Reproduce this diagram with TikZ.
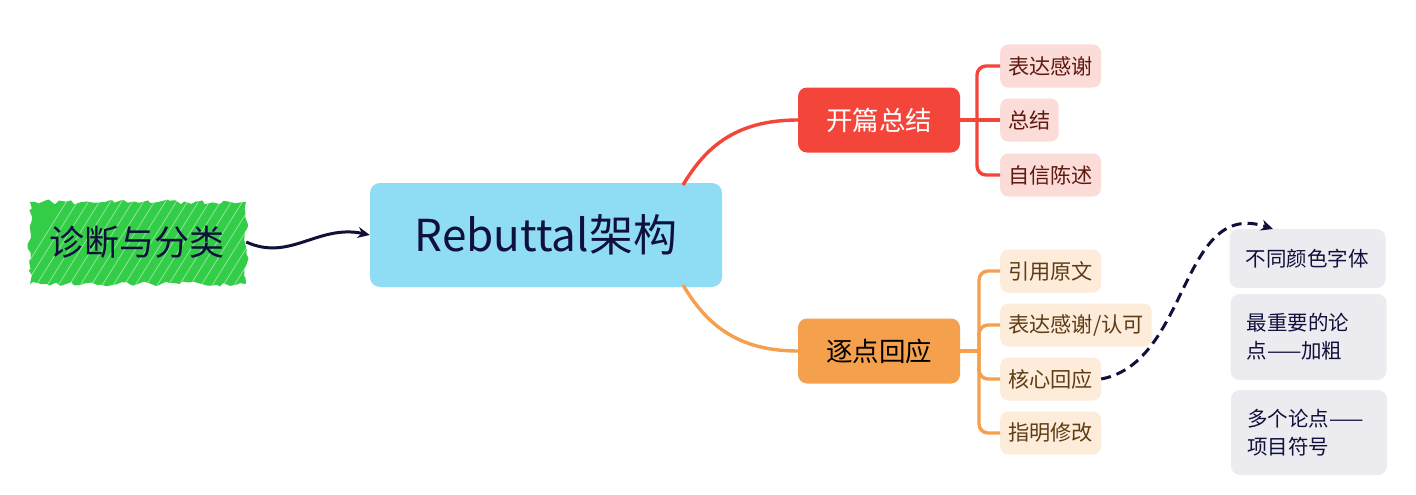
\documentclass[tikz,border=0pt]{standalone}
\usepackage{fontspec}
\setmainfont{Noto Sans CJK SC}
\usetikzlibrary{decorations.pathmorphing,arrows.meta}
\definecolor{cgreen}{RGB}{52,205,72}
\definecolor{cblue}{RGB}{143,220,245}
\definecolor{cred}{RGB}{244,69,58}
\definecolor{corange}{RGB}{245,160,76}
\definecolor{cpink}{RGB}{252,220,217}
\definecolor{cpinktext}{RGB}{95,25,15}
\definecolor{cpeach}{RGB}{253,236,218}
\definecolor{cpeachtext}{RGB}{95,60,20}
\definecolor{cgray}{RGB}{236,236,240}
\definecolor{cnavy}{RGB}{16,16,60}
\begin{document}
\begin{tikzpicture}[x=1pt,y=-1pt,
  mainbox/.style={fill=cblue, rounded corners=10pt, minimum width=352pt, minimum height=104pt, inner sep=0pt, text=cnavy, font=\fontsize{44}{50}\selectfont},
  topicred/.style={fill=cred, rounded corners=9pt, minimum width=162pt, minimum height=65pt, inner sep=0pt, text=white, font=\fontsize{26.5}{30}\selectfont},
  topicorange/.style={fill=corange, rounded corners=9pt, minimum width=162pt, minimum height=65pt, inner sep=0pt, text=black, font=\fontsize{26.5}{30}\selectfont},
  childred/.style={fill=cpink, rounded corners=8pt, minimum height=43pt, inner xsep=8pt, inner ysep=0pt, anchor=west, text=cpinktext, font=\fontsize{21.2}{24}\selectfont},
  childorange/.style={fill=cpeach, rounded corners=8pt, minimum height=43pt, inner xsep=8pt, inner ysep=0pt, anchor=west, text=cpeachtext, font=\fontsize{21.2}{24}\selectfont},
  graybox/.style={fill=cgray, rounded corners=9pt, inner xsep=16pt, inner ysep=0pt, text=cnavy, align=left, text width=124pt, font=\fontsize{20.5}{28}\selectfont},
  redline/.style={draw=cred, line width=3.4pt},
  orangeline/.style={draw=corange, line width=3.4pt},
  navyarrow/.style={draw=cnavy, line width=3pt, -{Stealth[length=12pt,width=11pt]}},
]
\useasboundingbox (0,0) rectangle (1416,495);
\fill[white] (0,0) rectangle (1416,495);

% sketchy green node background
\begin{scope}
\fill[cgreen, decorate, decoration={random steps, segment length=5pt, amplitude=2.5pt}] (30,202) rectangle (246,284);
\clip (26,198) rectangle (250,288);
\foreach \i in {0,...,24} {
  \draw[white, opacity=0.5, line width=0.7pt] ({10+\i*11},292) -- ({70+\i*11},196);
}
\end{scope}
\node[minimum width=218pt, minimum height=85pt, inner sep=0pt, text=cnavy, font=\fontsize{35}{40}\selectfont] (diag) at (137,242) {诊断与分类};

\node[mainbox] (main) at (546,235) {Rebuttal架构};

\node[topicred] (kp) at (879,120) {开篇总结};
\node[topicorange] (zd) at (879,351) {逐点回应};

\coordinate (mtop) at (683,185);
\coordinate (mbot) at (683,285);
\draw[redline] (mtop) .. controls (705,148) and (735,120) .. (kp.west);
\draw[orangeline] (mbot) .. controls (705,322) and (735,351) .. (zd.west);

% red children
\node[childred] (r1) at (1000,66) {表达感谢};
\node[childred] (r2) at (1000,120) {总结};
\node[childred] (r3) at (1000,175) {自信陈述};
\coordinate (rb) at (977,120);
\draw[redline, rounded corners=9pt] (r1.west) -| (rb) |- (r3.west);
\draw[redline] (kp.east) -- (r2.west);

% orange children
\node[childorange] (o1) at (1000,271) {引用原文};
\node[childorange] (o2) at (1000,325) {表达感谢/认可};
\node[childorange] (o3) at (1000,379) {核心回应};
\node[childorange] (o4) at (1000,433) {指明修改};
\coordinate (ob) at (979,351);
\draw[orangeline, rounded corners=9pt] (o1.west) -| (ob) |- (o4.west);
\draw[orangeline, rounded corners=9pt] (o2.west) -| (ob);
\draw[orangeline, rounded corners=9pt] (o3.west) -| (ob);
\draw[orangeline] (zd.east) -- (ob);

% gray boxes
\node[graybox, minimum height=59pt] (g1) at (1307.5,258.5) {不同颜色字体};
\node[graybox, minimum height=86pt] (g2) at (1308.5,337) {最重要的论\\点——加粗};
\node[graybox, minimum height=85pt] (g3) at (1309,432.5) {多个论点——\\项目符号};

% arrows
\draw[navyarrow] (diag.east) .. controls (290,262) and (318,224) .. (main.west);
\coordinate (dend) at (1273,229);
\draw[navyarrow, dash pattern=on 10pt off 6pt] (o3.east) .. controls (1190,362) and (1180,198) .. (dend);
\end{tikzpicture}
\end{document}
